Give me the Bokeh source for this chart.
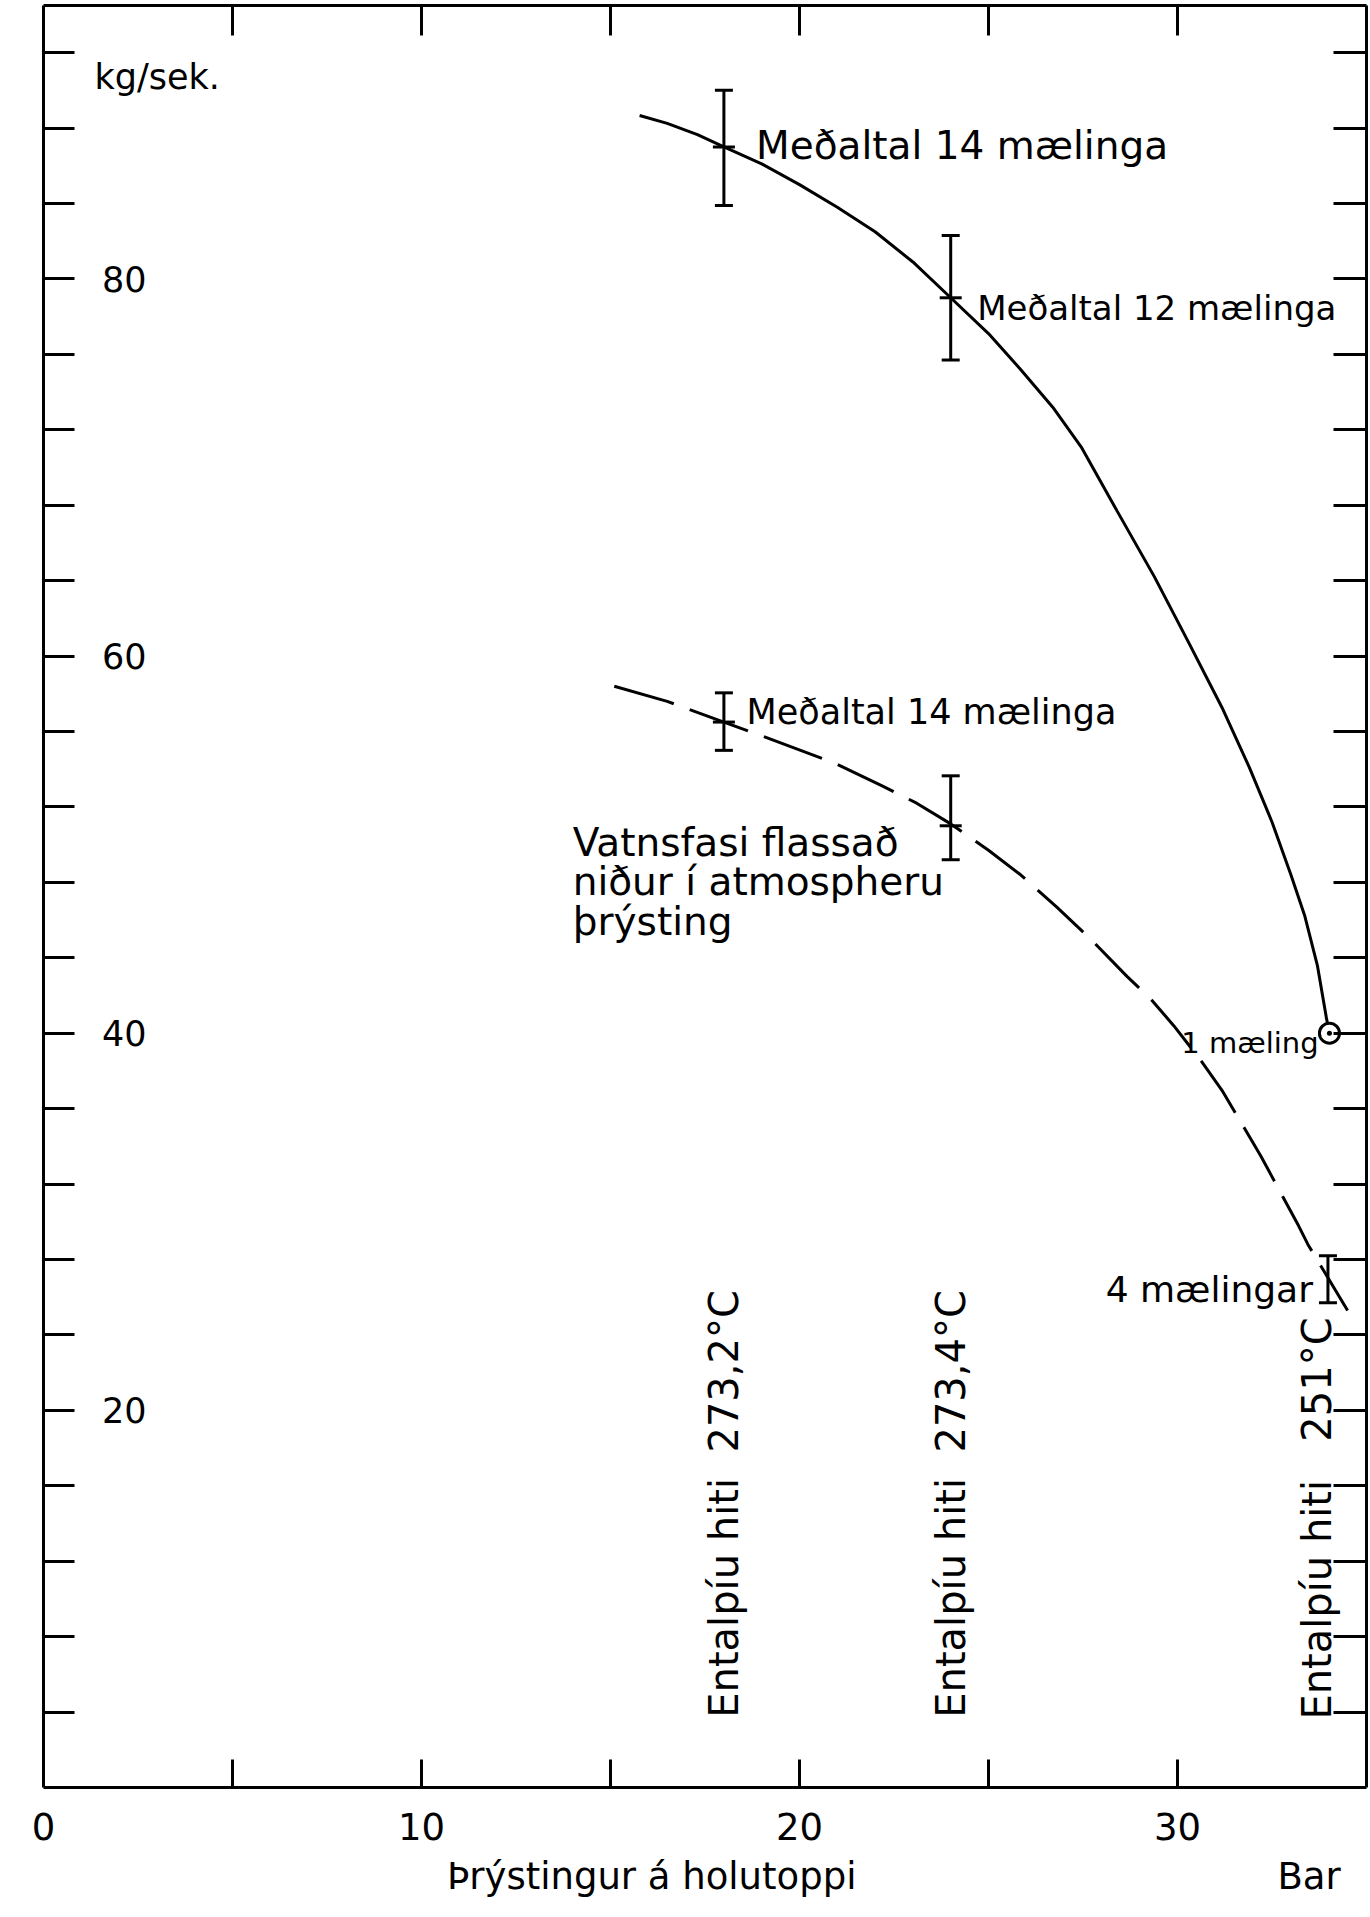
import math
from bokeh.plotting import figure
from bokeh.models import (LinearAxis, FixedTicker, Whisker, TeeHead,
                          ColumnDataSource, Range1d)
from bokeh.core.properties import value
from bokeh.embed import file_html
from bokeh.resources import INLINE

FONT = "DejaVu Sans"
NB = "\u00a0"

# ---------------- data ----------------
x_mark_ticks = [5, 10, 15, 20, 25, 30]
x_label_ticks = [0, 10, 20, 30]
x_unit = "Bar"
x_unit_at = 33.48
x_title = "Þrýstingur á holutoppi"
x_title_at = 16.09
y_ticks = [4, 8, 12, 16, 20, 24, 28, 32, 36, 40, 44, 48, 52, 56, 60, 64,
           68, 72, 76, 80, 84, 88, 92]
y_labels = [20, 40, 60, 80]

# solid curve (total flow, kg/sek)
solid_x = [15.77, 16.5, 17.3, 18.0, 19.0, 20.0, 21.0, 22.0, 23.0, 24.0,
           25.0, 25.85, 26.7, 27.45, 28.4, 29.39, 30.3, 31.17, 31.9, 32.5,
           33.0, 33.37, 33.7, 33.94, 34.02]
solid_y = [88.67, 88.25, 87.65, 87.0, 86.1, 85.0, 83.8, 82.5, 80.9, 79.0,
           77.1, 75.2, 73.2, 71.1, 67.7, 64.2, 60.7, 57.3, 54.1, 51.2,
           48.4, 46.2, 43.6, 40.8, 40.0]

# dashed curve (water phase flashed to atmospheric pressure)
dash_x = [15.1, 16.5, 18.0, 19.5, 20.95, 22.2, 23.1, 24.0, 25.0, 25.85,
          26.8, 27.7, 28.67, 29.3, 29.9, 30.6, 31.2, 32.2, 33.2, 33.45, 34.5]
dash_y = [58.4, 57.6, 56.5, 55.4, 54.3, 53.1, 52.2, 51.1, 49.7, 48.4,
          46.7, 45.0, 43.0, 41.8, 40.4, 38.6, 36.9, 33.5, 29.8, 28.8, 25.3]

# error bars
solid_err_x = [18.0, 24.0]
solid_err_mid = [87.0, 79.0]
solid_err_lo = [83.9, 75.7]
solid_err_hi = [90.0, 82.3]

dash_err_x = [18.0, 24.0, 33.98]
dash_err_mid = [56.5, 51.0, 27.0]
dash_err_lo = [55.0, 49.2, 25.7]
dash_err_hi = [58.05, 53.65, 28.2]

single_x = [34.02]
single_y = [40.0]

ental_x = [18.0, 24.0, 33.7]
ental_text = ["Entalpíu hiti " + NB + "273,2°C",
              "Entalpíu hiti " + NB + "273,4°C",
              "Entalpíu hiti " + NB + NB + "251°C"]

# ---------------- figure ----------------
p = figure(width=1368, height=1915, x_range=Range1d(0, 35.0),
           y_range=Range1d(0, 94.5), output_backend="svg",
           toolbar_location=None, x_axis_location=None, y_axis_location=None,
           min_border_left=43, min_border_right=2, min_border_top=5,
           min_border_bottom=128)
p.grid.visible = False
p.outline_line_color = None
p.background_fill_color = "white"
p.border_fill_color = "white"


def style_axis(ax, tick_in, labels=False):
    ax.axis_line_width = 3
    ax.axis_line_color = "black"
    ax.major_tick_in = tick_in
    ax.major_tick_out = 0
    ax.major_tick_line_width = 3
    ax.major_tick_line_color = "black"
    ax.minor_tick_in = 0
    ax.minor_tick_out = 0
    ax.major_label_text_font = FONT
    ax.major_label_text_color = "black"
    if not labels:
        ax.major_label_text_font_size = "1px"
        ax.major_label_standoff = 0


# bottom axis: marks drawn as minor ticks, labels on (hidden) major ticks
bottom_labels = {t: str(t) for t in x_label_ticks}
bottom_labels[x_unit_at] = "\n" + x_unit
bottom_labels[x_title_at] = "\n" + x_title
bottom = LinearAxis(ticker=FixedTicker(ticks=x_label_ticks + [x_title_at, x_unit_at],
                                       minor_ticks=x_mark_ticks),
                    major_label_overrides=bottom_labels)
style_axis(bottom, 0, labels=True)
bottom.major_tick_line_color = None
bottom.minor_tick_in = 28
bottom.minor_tick_out = 0
bottom.minor_tick_line_width = 3
bottom.minor_tick_line_color = "black"
bottom.major_label_text_font_size = "37px"
bottom.major_label_text_line_height = 1.15
bottom.major_label_standoff = 18
p.add_layout(bottom, "below")

top = LinearAxis(ticker=FixedTicker(ticks=x_mark_ticks),
                 major_label_overrides={t: "" for t in x_mark_ticks})
style_axis(top, 30)
p.add_layout(top, "above")

left = LinearAxis(ticker=FixedTicker(ticks=y_ticks),
                  major_label_overrides={t: "" for t in y_ticks})
style_axis(left, 31)
p.add_layout(left, "left")

right = LinearAxis(ticker=FixedTicker(ticks=y_ticks),
                   major_label_overrides={t: "" for t in y_ticks})
style_axis(right, 33)
p.add_layout(right, "right")

# y tick labels drawn inside the frame
p.text(x=[1.55] * len(y_labels), y=y_labels, text=[str(v) for v in y_labels],
       text_font=value(FONT), text_font_size="35px", text_align="left",
       text_baseline="middle", text_color="black")

# curves
p.line(solid_x, solid_y, line_width=3, line_color="black")
p.line(dash_x, dash_y, line_width=3, line_color="black", line_dash="62 17")

# error bars
for xs, lo, hi in [(solid_err_x, solid_err_lo, solid_err_hi),
                   (dash_err_x, dash_err_lo, dash_err_hi)]:
    src = ColumnDataSource(dict(x=xs, lower=lo, upper=hi))
    w = Whisker(source=src, base="x", lower="lower", upper="upper",
                dimension="height", line_width=3, line_color="black",
                upper_head=TeeHead(size=18, line_width=3, line_color="black"),
                lower_head=TeeHead(size=18, line_width=3, line_color="black"))
    p.add_layout(w)

p.scatter(solid_err_x, solid_err_mid, marker="dash", size=22, line_width=3,
          line_color="black")
p.scatter(dash_err_x[:2], dash_err_mid[:2], marker="dash", size=22,
          line_width=3, line_color="black")

# single measurement point
p.scatter(single_x, single_y, marker="circle_dot", size=20, line_width=3,
          line_color="black", fill_color="white")


def txt(x, y, s, size):
    p.text(x=[x], y=[y], text=[s], text_font=value(FONT),
           text_font_size=size, text_align="left",
           text_baseline="alphabetic", text_color="black")


txt(1.35, 90.7, "kg/sek.", "35px")
txt(18.85, 87.07, "Meðaltal 14 mælinga", "39px")
txt(24.7, 78.45, "Meðaltal 12 mælinga", "34px")
txt(18.6, 57.05, "Meðaltal 14 mælinga", "35px")
txt(14.0, 50.1, "Vatnsfasi flassað", "39px")
txt(14.0, 48.05, "niður í atmospheru", "39px")
txt(14.0, 45.9, "þrýsting", "39px")
txt(30.1, 39.5, "1 mæling", "29px")
txt(28.1, 26.4, "4 mælingar", "36px")

p.text(x=ental_x, y=[3.7, 3.7, 3.6], text=ental_text, angle=math.pi / 2,
       text_font=value(FONT), text_font_size="40px", text_align="left",
       text_baseline="middle", text_color="black")

open("out.html", "w").write(file_html(p, INLINE))
